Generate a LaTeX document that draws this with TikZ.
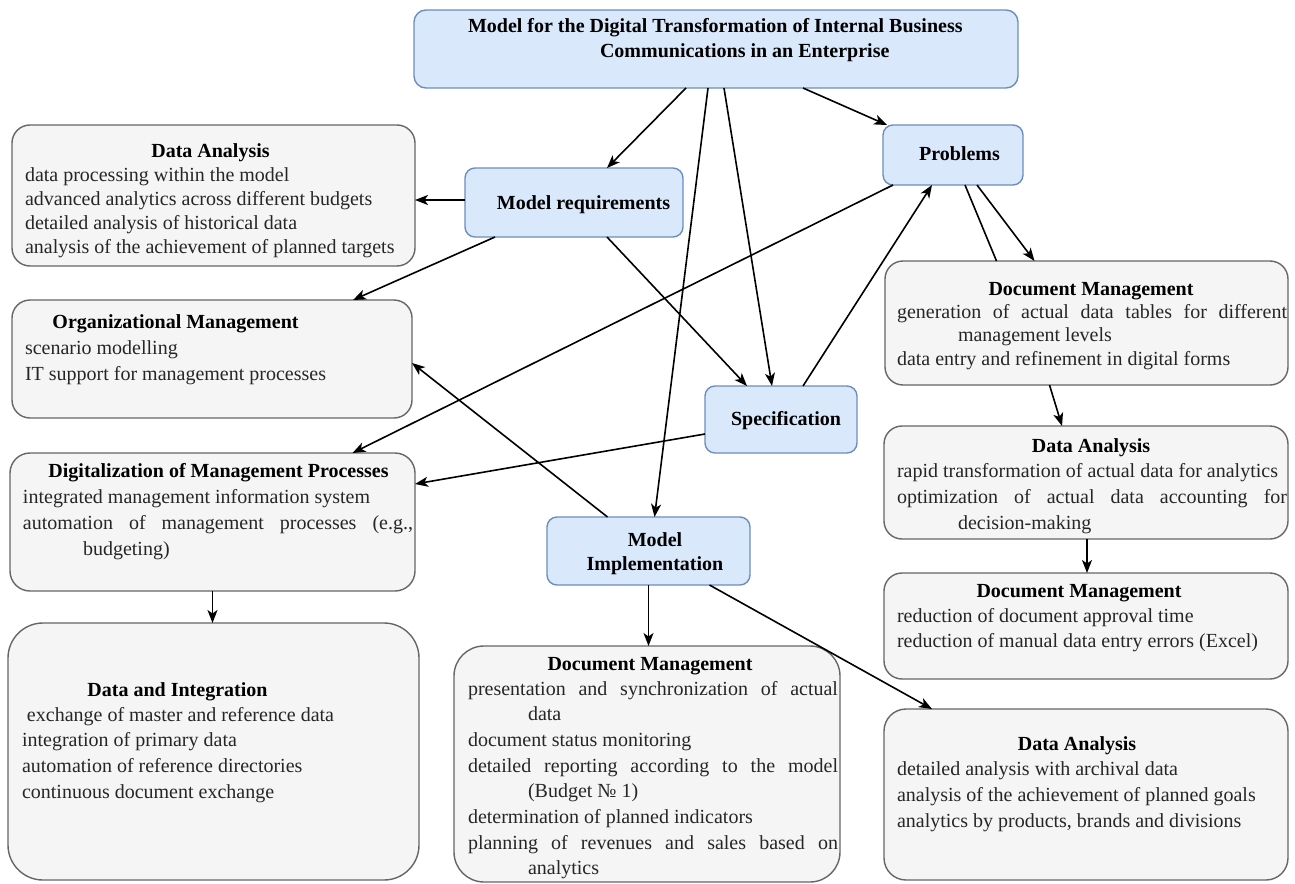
\documentclass[tikz,border=0pt]{standalone}
\usepackage{fontspec}
\setmainfont{Liberation Serif}
\usetikzlibrary{arrows.meta,calc}
\definecolor{bfill}{HTML}{DAE8FC}
\definecolor{bline}{HTML}{6C8EBF}
\definecolor{gfill}{HTML}{F5F5F5}
\definecolor{gline}{HTML}{666666}
\definecolor{gtext}{HTML}{262626}
\begin{document}
\begin{tikzpicture}[x=1pt,y=-1pt,
  every node/.style={inner sep=0pt, outer sep=0pt},
  bluebox/.style={draw=bline, fill=bfill, line width=1.4pt, rounded corners=#1, anchor=north west},
  graybox/.style={draw=gline, fill=gfill, line width=1.4pt, rounded corners=#1, anchor=north west},
  boxlabel/.style={anchor=base, font=\fontsize{20}{24}\selectfont\bfseries, text=black},
  boxlabelw/.style={anchor=base west, font=\fontsize{20}{24}\selectfont\bfseries, text=black},
  bodytext/.style={anchor=north west, align=left, text=gtext, font=\fontsize{20}{#1}\selectfont},
  conn/.style={draw=black, line width=1.6pt, -{Stealth[length=13pt,width=10pt,inset=3.5pt]}},
  noarrow/.style={draw=black, line width=1.6pt}
]
\useasboundingbox (0,0) rectangle (1295,883);
\fill[white] (0,0) rectangle (1295,883);

% ---- blue boxes
\node[bluebox=12pt, minimum width=604pt, minimum height=78pt] (title) at (414,10) {};
\node[boxlabelw] (titlea) at (468,33) {Model for the Digital Transformation of Internal Business};
\node[boxlabelw] (titleb) at (600,57) {Communications in an Enterprise};

\node[bluebox=10pt, minimum width=218pt, minimum height=69pt] (mr) at (465,168) {};
\node[boxlabel] (mrl) at (583.5,209) {Model requirements};

\node[bluebox=10pt, minimum width=140pt, minimum height=60pt] (pr) at (883,125) {};
\node[boxlabel] (prl) at (959.5,160) {Problems};

\node[bluebox=10pt, minimum width=152pt, minimum height=67pt] (spec) at (705,386) {};
\node[boxlabel] (specl) at (786,425) {Specification};

\node[bluebox=10pt, minimum width=203pt, minimum height=68pt] (mi) at (547,517) {};
\node[boxlabel] (mil1) at (655,546) {Model};
\node[boxlabel] (mil2) at (655,570) {Implementation};

% ---- gray boxes
\node[graybox=18pt, minimum width=403pt, minimum height=141pt] (da1) at (12,125) {};
\node[boxlabel] (da1t) at (210.5,157.5) {Data Analysis};
\node[bodytext=24pt] (da1b) at (25,164.7) {\strut data processing within the model\\
\strut advanced analytics across different budgets\\
\strut detailed analysis of historical data\\
\strut analysis of the achievement of planned targets};

\node[graybox=18pt, minimum width=400pt, minimum height=118pt] (om) at (12,300) {};
\node[boxlabel] (omt) at (175.5,328) {Organizational Management};
\node[bodytext=26pt] (omb) at (25,335.8) {\strut scenario modelling\\
\strut IT support for management processes};

\node[graybox=20pt, minimum width=405pt, minimum height=138pt] (dig) at (10,453) {};
\node[boxlabel] (digt) at (218.5,477) {Digitalization of Management Processes};
\node[bodytext=26pt] (digb) at (23,484.8) {\strut integrated management information system\\
\strut\makebox[390pt][s]{automation of management processes (e.g.,}\\
\strut\hspace*{60pt}budgeting)};

\node[graybox=35pt, minimum width=411pt, minimum height=257pt] (di) at (8,623) {};
\node[boxlabel] (dit) at (177.5,696) {Data and Integration};
\node[bodytext=25.7pt] (dib) at (22,703) {\strut\hspace*{5pt}exchange of master and reference data\\
\strut integration of primary data\\
\strut automation of reference directories\\
\strut continuous document exchange};

\node[graybox=30pt, minimum width=386pt, minimum height=236pt] (dm3) at (454,646) {};
\node[boxlabel] (dm3t) at (650,670) {Document Management};
\node[bodytext=25.7pt] (dm3b) at (468,677) {\strut\makebox[370pt][s]{presentation and synchronization of actual}\\
\strut\hspace*{60pt}data\\
\strut document status monitoring\\
\strut\makebox[370pt][s]{detailed reporting according to the model}\\
\strut\hspace*{60pt}(Budget № 1)\\
\strut determination of planned indicators\\
\strut\makebox[370pt][s]{planning of revenues and sales based on}\\
\strut\hspace*{60pt}analytics};

\node[graybox=18pt, minimum width=403pt, minimum height=124pt] (dm1) at (885,261) {};
\node[boxlabel] (dm1t) at (1091,295) {Document Management};
\node[bodytext=23.5pt] (dm1b) at (897,301.55) {\strut\makebox[390pt][s]{generation of actual data tables for different}\\
\strut\hspace*{61pt}management levels\\
\strut data entry and refinement in digital forms};

\node[graybox=18pt, minimum width=404pt, minimum height=113pt] (da2) at (884,426) {};
\node[boxlabel] (da2t) at (1091,452) {Data Analysis};
\node[bodytext=26pt] (da2b) at (897,458.8) {\strut rapid transformation of actual data for analytics\\
\strut\makebox[390pt][s]{optimization of actual data accounting for}\\
\strut\hspace*{61pt}decision-making};

\node[graybox=18pt, minimum width=404pt, minimum height=106pt] (dm2) at (884,573) {};
\node[boxlabel] (dm2t) at (1079,597) {Document Management};
\node[bodytext=25pt] (dm2b) at (897,604.5) {\strut reduction of document approval time\\
\strut reduction of manual data entry errors (Excel)};

\node[graybox=22pt, minimum width=404pt, minimum height=171pt] (da3) at (884,709) {};
\node[boxlabel] (da3t) at (1077,750) {Data Analysis};
\node[bodytext=26pt] (da3b) at (897,756.8) {\strut detailed analysis with archival data\\
\strut analysis of the achievement of planned goals\\
\strut analytics by products, brands and divisions};

% ---- connectors
\draw[conn] ([xshift=-30pt]title.south) -- ([xshift=33pt]mr.north);
\draw[conn] ([xshift=-8pt]title.south) -- ([xshift=6pt]mi.north);
\draw[conn] ([xshift=8pt]title.south) -- ([xshift=-9pt]spec.north);
\draw[conn] ([xshift=87pt]title.south) -- ([xshift=4pt]pr.north west);
\draw[conn] ([yshift=2.5pt]mr.west) -- ([yshift=-4.5pt]da1.east);
\draw[conn] ([xshift=-79pt]mr.south) -- ([xshift=141pt]om.north);
\draw[conn] ([xshift=33pt]mr.south) -- ([xshift=-34pt]spec.north);
\draw[conn] ([xshift=10pt]pr.south west) -- ([xshift=140pt]dig.north);
\draw[conn] ([yshift=-14.5pt]spec.west) -- ([yshift=38pt]dig.east);
\draw[conn] ([xshift=22pt]spec.north) -- ([xshift=-21pt]pr.south);
\draw[noarrow] ([xshift=12pt]pr.south) -- ([xshift=-90pt]dm1.north);
\draw[conn] ([xshift=24pt]pr.south) -- ([xshift=-52pt]dm1.north);
\draw[conn] ([xshift=-37pt]dm1.south) -- ([xshift=-24pt]da2.north);
\draw[conn] ([xshift=1pt]da2.south) -- ([xshift=1pt]dm2.north);
\draw[conn] ([xshift=-41pt]mi.north) -- ([yshift=-4pt]om.east);
\draw[conn] (mi.south) -- (mi.south |- dm3.north);
\draw[conn] ([xshift=61pt]mi.south) -- ([xshift=-154pt]da3.north);
\draw[conn] (dig.south) -- (dig.south |- di.north);
\end{tikzpicture}
\end{document}
